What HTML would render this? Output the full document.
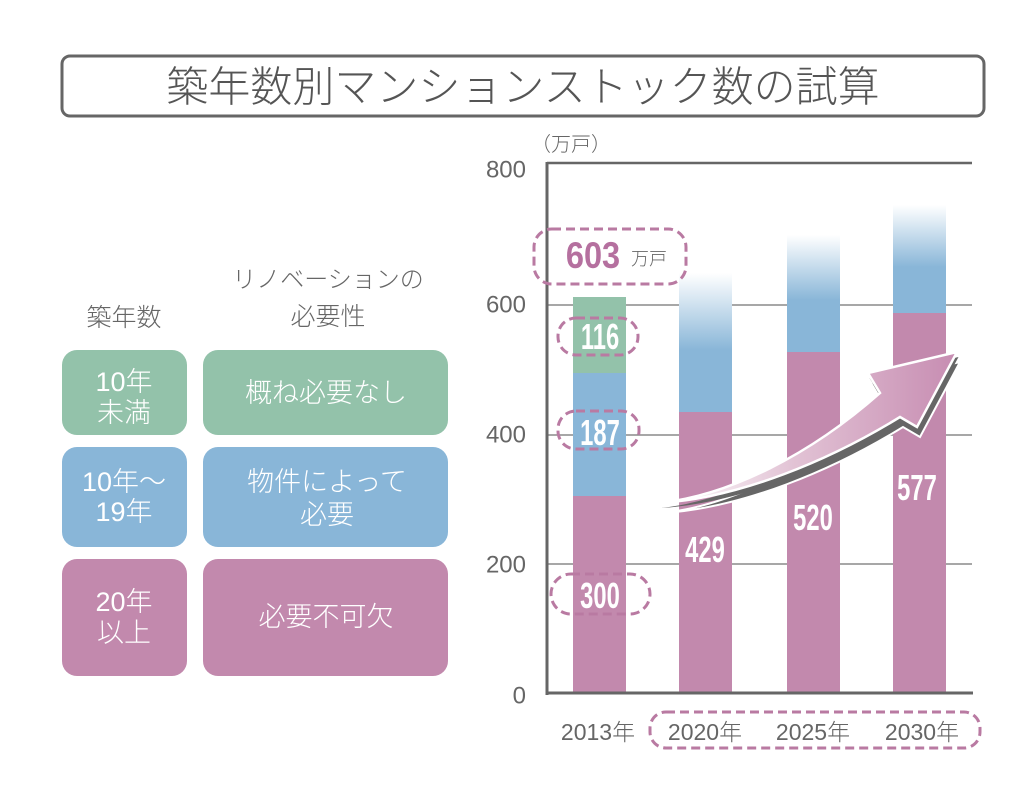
<!DOCTYPE html>
<html>
<head>
<meta charset="utf-8">
<style>
html,body{margin:0;padding:0;background:#fff;}
svg{display:block;}
text{font-family:"Liberation Sans","Noto Sans CJK JP",sans-serif;}
.jp{font-weight:300;}
</style>
</head>
<body>
<svg width="1024" height="795" viewBox="0 0 1024 795" xmlns="http://www.w3.org/2000/svg">
<defs>
  <linearGradient id="g2020" gradientUnits="userSpaceOnUse" x1="0" y1="273" x2="0" y2="350">
    <stop offset="0" stop-color="#ffffff"/>
    <stop offset="1" stop-color="#89b6d8"/>
  </linearGradient>
  <linearGradient id="g2025" gradientUnits="userSpaceOnUse" x1="0" y1="235" x2="0" y2="300">
    <stop offset="0" stop-color="#ffffff"/>
    <stop offset="1" stop-color="#89b6d8"/>
  </linearGradient>
  <linearGradient id="g2030" gradientUnits="userSpaceOnUse" x1="0" y1="205" x2="0" y2="267">
    <stop offset="0" stop-color="#ffffff"/>
    <stop offset="1" stop-color="#89b6d8"/>
  </linearGradient>
  <linearGradient id="arrowG" gradientUnits="userSpaceOnUse" x1="660" y1="0" x2="955" y2="0">
    <stop offset="0" stop-color="#ffffff"/>
    <stop offset="0.45" stop-color="#e2c3d5"/>
    <stop offset="1" stop-color="#c78db2"/>
  </linearGradient>
</defs>

<!-- Title -->
<rect x="62" y="56" width="922" height="60" rx="8" ry="8" fill="#fff" stroke="#666" stroke-width="3"/>
<text class="jp" x="523" y="87" font-size="42" fill="#555" text-anchor="middle" dominant-baseline="central">築年数別マンションストック数の試算</text>

<!-- Left legend headers -->
<text class="jp" x="124" y="318" font-size="25" fill="#666" text-anchor="middle" dominant-baseline="central">築年数</text>
<text class="jp" x="328" y="280" font-size="24" fill="#666" text-anchor="middle" dominant-baseline="central">リノベーションの</text>
<text class="jp" x="328" y="317" font-size="25" fill="#666" text-anchor="middle" dominant-baseline="central">必要性</text>

<!-- Legend boxes -->
<rect x="62" y="350" width="125" height="85" rx="15" fill="#93c2aa"/>
<rect x="203" y="350" width="245" height="85" rx="15" fill="#93c2aa"/>
<rect x="62" y="447" width="125" height="100" rx="15" fill="#89b6d8"/>
<rect x="203" y="447" width="245" height="100" rx="15" fill="#89b6d8"/>
<rect x="62" y="559" width="125" height="117" rx="15" fill="#c289ad"/>
<rect x="203" y="559" width="245" height="117" rx="15" fill="#c289ad"/>

<g class="jp" font-size="27" fill="#fff" text-anchor="middle" dominant-baseline="central">
  <text x="124" y="382">10年</text>
  <text x="124" y="413">未満</text>
  <text x="326" y="393">概ね必要なし</text>
  <text x="124" y="482">10年〜</text>
  <text x="124" y="512">19年</text>
  <text x="327" y="482">物件によって</text>
  <text x="327" y="515">必要</text>
  <text x="124" y="602">20年</text>
  <text x="124" y="633">以上</text>
  <text x="326" y="617">必要不可欠</text>
</g>

<!-- Chart grid -->
<line x1="547" y1="305" x2="972" y2="305" stroke="#8a8a8a" stroke-width="1.5"/>
<line x1="547" y1="435" x2="972" y2="435" stroke="#8a8a8a" stroke-width="1.5"/>
<line x1="547" y1="564" x2="972" y2="564" stroke="#8a8a8a" stroke-width="1.5"/>
<line x1="547" y1="163" x2="972" y2="163" stroke="#666" stroke-width="2.5"/>

<!-- Bars 2013 -->
<rect x="573" y="297" width="53" height="77" fill="#93c2aa"/>
<rect x="573" y="373" width="53" height="124" fill="#89b6d8"/>
<rect x="573" y="496" width="53" height="197" fill="#c289ad"/>
<!-- 2020 -->
<rect x="679" y="273" width="53" height="140" fill="url(#g2020)"/>
<rect x="679" y="412" width="53" height="281" fill="#c289ad"/>
<!-- 2025 -->
<rect x="787" y="235" width="53" height="118" fill="url(#g2025)"/>
<rect x="787" y="352" width="53" height="341" fill="#c289ad"/>
<!-- 2030 -->
<rect x="893" y="205" width="53" height="109" fill="url(#g2030)"/>
<rect x="893" y="313" width="53" height="380" fill="#c289ad"/>

<!-- Axes -->
<line x1="547" y1="162" x2="547" y2="695" stroke="#666" stroke-width="3"/>
<line x1="545.5" y1="693" x2="973" y2="693" stroke="#666" stroke-width="3"/>

<!-- Y labels -->
<g font-size="24" fill="#666" text-anchor="end" dominant-baseline="central">
  <text x="526" y="170">800</text>
  <text x="526" y="305">600</text>
  <text x="526" y="435">400</text>
  <text x="526" y="565">200</text>
  <text x="526" y="696">0</text>
</g>
<text class="jp" x="571" y="145" font-size="20" fill="#666" text-anchor="middle" dominant-baseline="central">（万戸）</text>

<!-- X labels -->
<g class="jp" font-size="23" fill="#666" text-anchor="middle" dominant-baseline="central">
  <text x="598" y="732">2013年</text>
  <text x="705" y="732">2020年</text>
  <text x="813" y="732">2025年</text>
  <text x="922" y="732">2030年</text>
</g>

<!-- Arrow -->
<g transform="translate(3,10)">
  <path d="M660,503 C730,495 810,455 880,393 L868,373 L957,352 L917,427 L900,417 C830,460 740,498 660,503 Z" fill="#666" stroke="#fff" stroke-width="2"/>
</g>
<path d="M660,503 C730,495 810,455 880,393 L868,373 L957,352 L917,427 L900,417 C830,460 740,498 660,503 Z" fill="#666"/>
<g transform="translate(1.5,5)">
  <path d="M660,503 C730,495 810,455 880,393 L868,373 L957,352 L917,427 L900,417 C830,460 740,498 660,503 Z" fill="#666"/>
</g>
<path d="M660,503 C730,495 810,455 880,393 L868,373 L957,352 L917,427 L900,417 C830,460 740,498 660,503 Z" fill="url(#arrowG)" stroke="#fff" stroke-width="2.5" stroke-linejoin="miter"/>

<!-- Bar value labels -->
<g font-weight="bold" font-size="36" fill="#fff" text-anchor="middle">
  <text transform="translate(600,349) scale(0.66,1)">116</text>
  <text transform="translate(600,445) scale(0.66,1)">187</text>
  <text transform="translate(600,608) scale(0.66,1)">300</text>
  <text transform="translate(705,562) scale(0.66,1)">429</text>
  <text transform="translate(813,530) scale(0.66,1)">520</text>
  <text transform="translate(917,500) scale(0.66,1)">577</text>
</g>

<!-- 603 callout -->
<text transform="translate(593,268) scale(0.88,1)" font-weight="bold" font-size="37" fill="#b5709f" text-anchor="middle">603</text>
<text class="jp" x="649" y="259" font-size="18" fill="#666" text-anchor="middle" dominant-baseline="central">万戸</text>

<!-- Dashed outlines -->
<g fill="none" stroke="#b97aa2" stroke-width="3" stroke-dasharray="9 5">
  <rect x="534" y="229" width="152" height="55" rx="18"/>
  <rect x="558" y="318" width="80" height="37" rx="18"/>
  <rect x="558" y="411" width="81" height="38" rx="18"/>
  <rect x="551" y="574" width="99" height="40" rx="20"/>
  <rect x="650" y="712" width="330" height="36" rx="16"/>
</g>
</svg>
</body>
</html>
